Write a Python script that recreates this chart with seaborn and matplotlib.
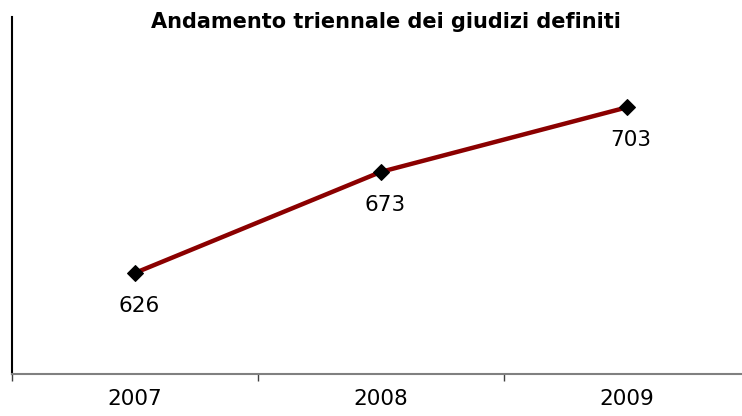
import matplotlib
matplotlib.use("Agg")
import matplotlib.pyplot as plt
import seaborn as sns
import pandas as pd
import numpy as np

# dati
anni = ["2007", "2008", "2009"]
giudizi = [626, 673, 703]
titolo = "Andamento triennale dei giudizi definiti"

df = pd.DataFrame({"anno": anni, "giudizi": giudizi})

sns.set_style("white")
plt.rcParams['font.family'] = ['DejaVu Sans']
plt.rcParams['text.color'] = 'black'

fig = plt.figure(figsize=(7.42, 4.16), dpi=100)
W, H = 742, 416
ax = fig.add_axes([12 / W, 1 - 374 / H, 738 / W, (374 - 17) / H])

sns.lineplot(data=df, x="anno", y="giudizi", ax=ax, color="#8B0000",
             linewidth=3.2, marker="D", markersize=8,
             markerfacecolor="black", markeredgecolor="black", sort=False)

ax.set_xlim(-0.5, 2.5)
ax.set_ylim(579, 745)

for i, v in enumerate(giudizi):
    ax.annotate(str(v), (i, v), xytext=(4, -33), textcoords="offset pixels",
                ha="center", va="center", fontsize=15.5, color="black")

ax.set_xlabel("")
ax.set_ylabel("")
ax.set_yticks([])
ax.set_xticks(range(len(anni)))
ax.set_xticklabels(anni, fontsize=15.5, color="black")
ax.tick_params(axis="x", which="major", length=0, pad=11)
ax.set_xticks(np.arange(-0.5, 2.6, 1), minor=True)
ax.tick_params(axis="x", which="minor", length=5, width=1, color="#404040",
               direction="out", bottom=True)

for s in ["top", "right"]:
    ax.spines[s].set_visible(False)
ax.spines["left"].set_color("black")
ax.spines["left"].set_linewidth(1.5)
ax.spines["bottom"].set_color("#808080")
ax.spines["bottom"].set_linewidth(1.5)

fig.text(386 / W, 1 - 22 / H, titolo, ha="center", va="center",
         fontsize=15, fontweight="bold", color="black")

fig.savefig("out.png", dpi=100)
